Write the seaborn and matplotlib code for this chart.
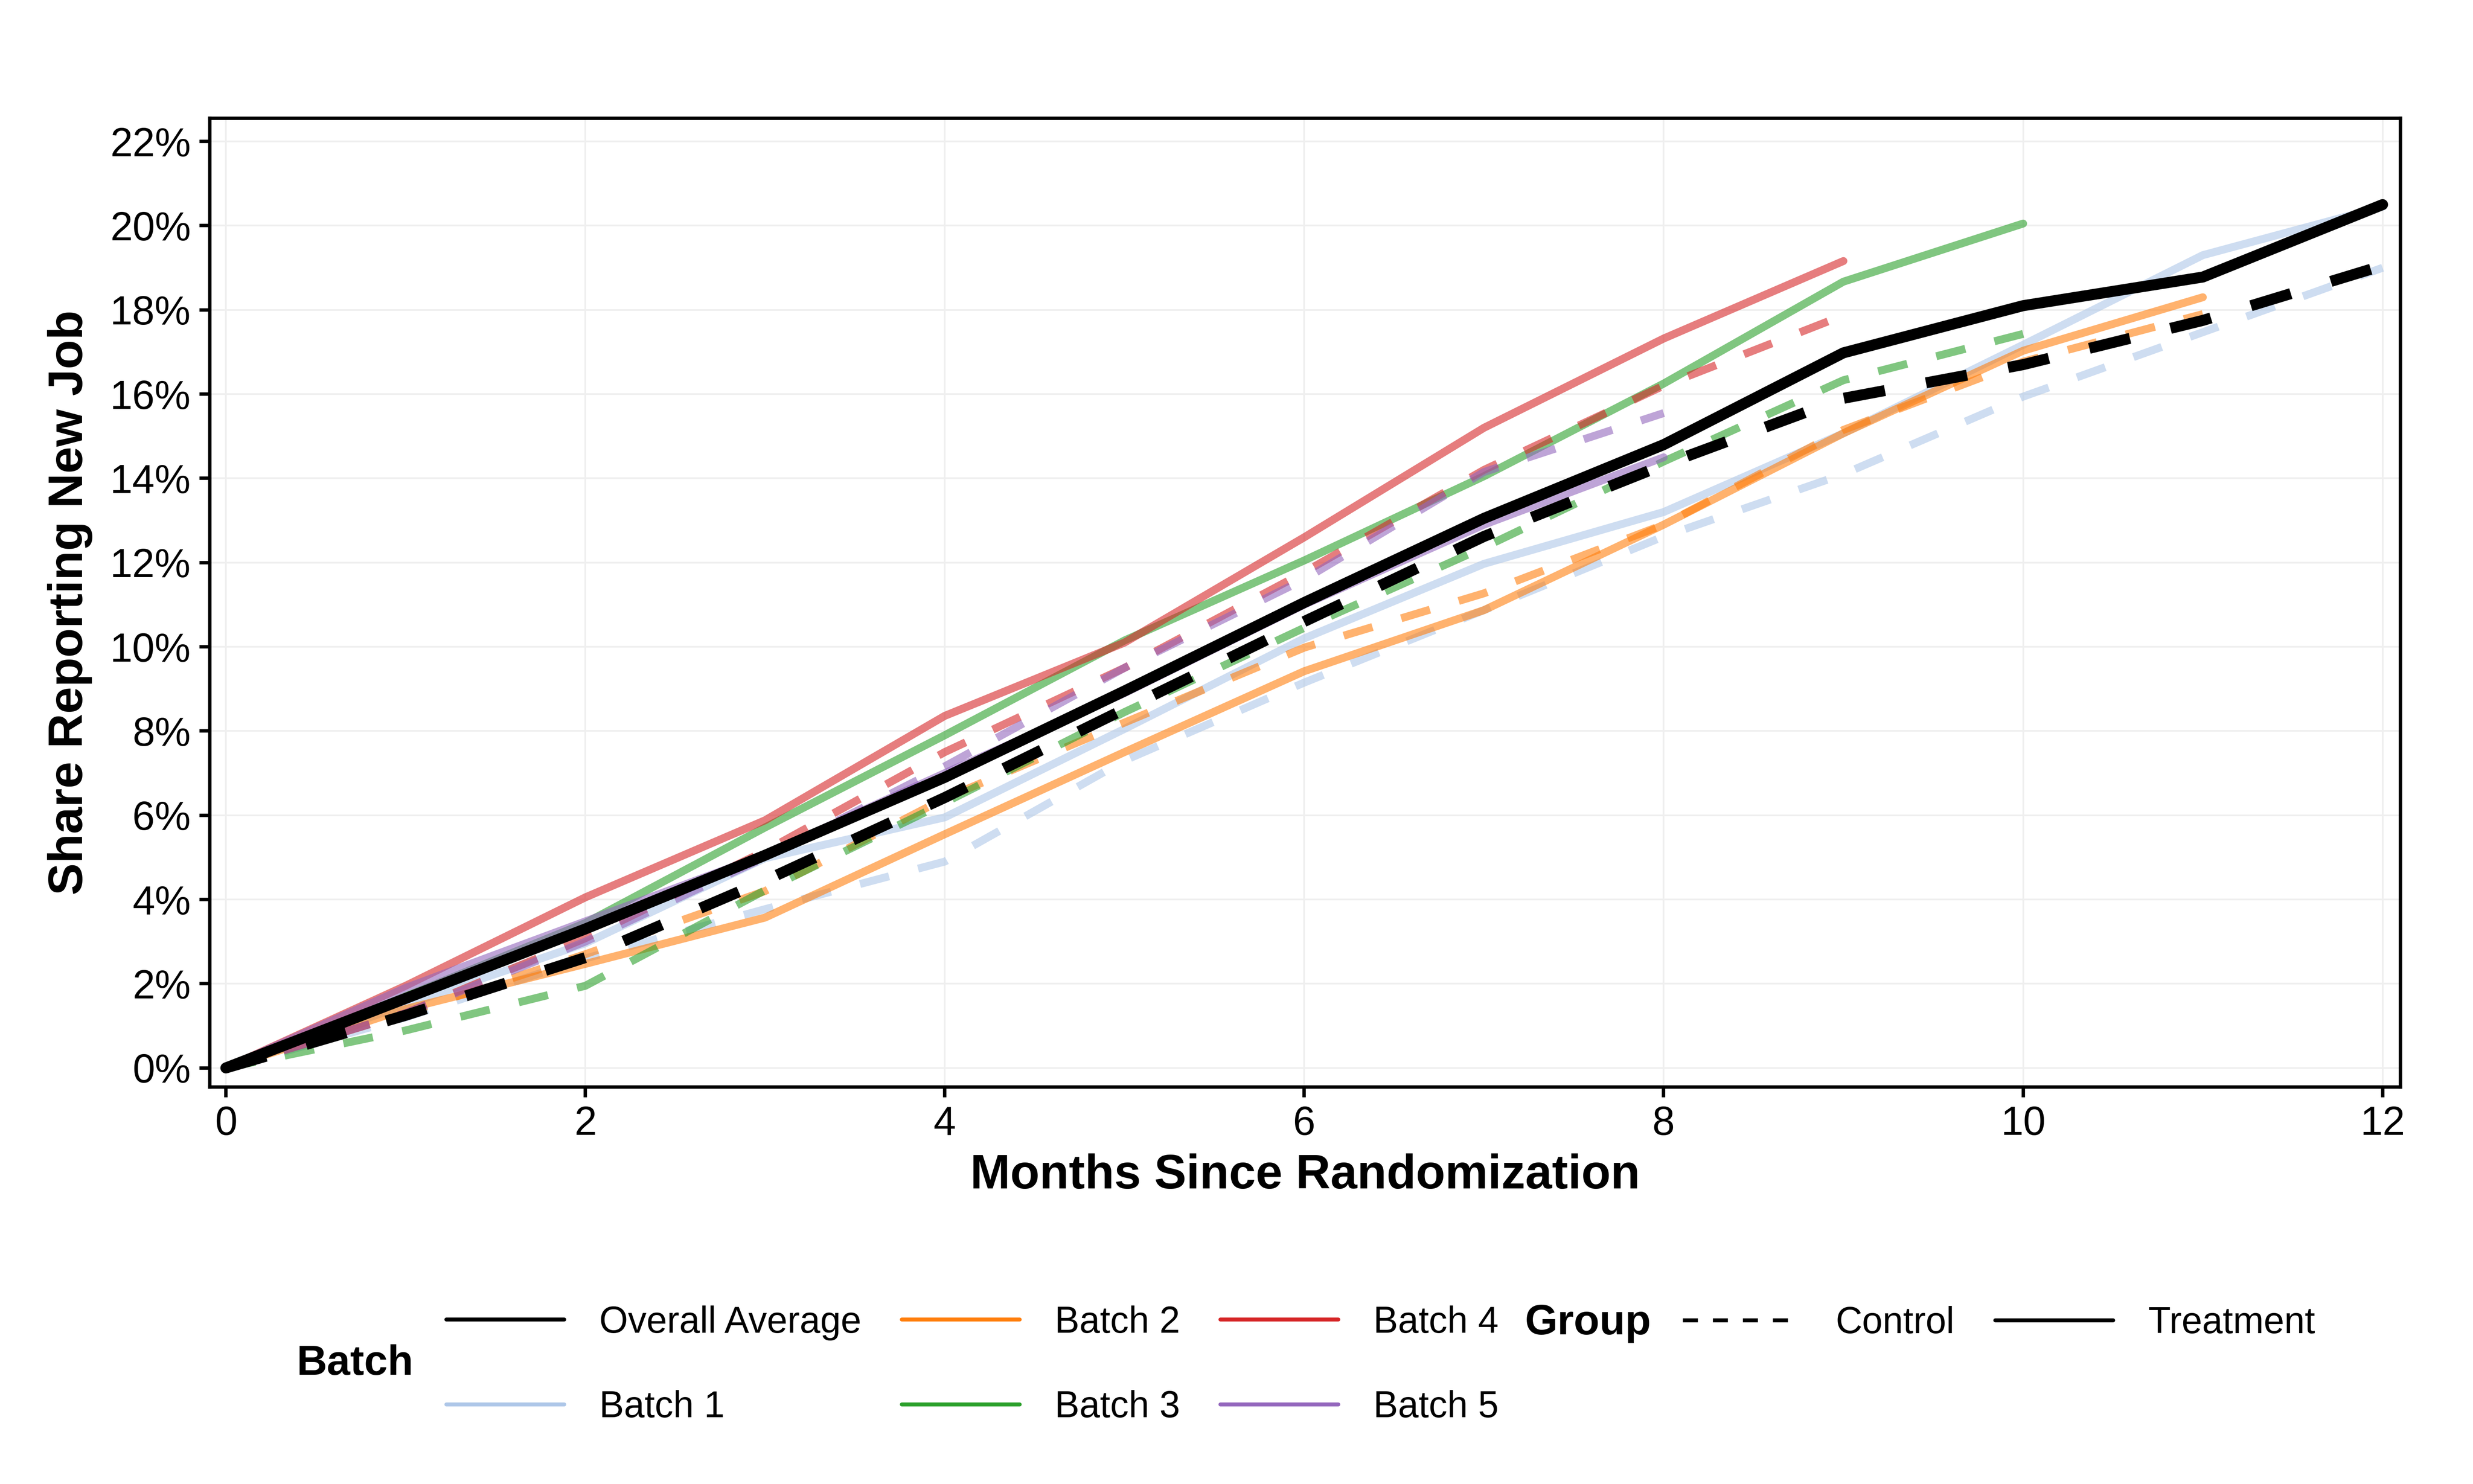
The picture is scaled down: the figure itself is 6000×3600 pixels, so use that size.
import matplotlib
matplotlib.use('Agg')
import matplotlib.pyplot as plt
from matplotlib.lines import Line2D
from matplotlib.ticker import FuncFormatter, MultipleLocator
import seaborn as sns
import pandas as pd

# months since randomization, share reporting new job in percent
months = list(range(13))

overall_treat = [0, 1.65, 3.3, 5.05, 6.9, 8.95, 11.05, 13.05, 14.8, 16.98, 18.1, 18.78, 20.5]
overall_ctrl = [0, 1.25, 2.62, 4.45, 6.42, 8.52, 10.6, 12.62, 14.32, 15.9, 16.7, 17.75, 19.05]

batch1_treat = [0, 1.5, 2.96, 4.98, 5.95, 8.05, 10.2, 11.97, 13.2, 15.07, 17.17, 19.3, 20.45]
batch1_ctrl = [0, 1.2, 2.6, 3.77, 4.9, 7.3, 9.15, 10.87, 12.62, 14.1, 15.94, 17.47, 19.0]
batch2_treat = [0, 1.4, 2.47, 3.57, 5.55, 7.5, 9.42, 10.87, 12.9, 15.07, 17.03, 18.3]
batch2_ctrl = [0, 1.3, 2.7, 4.2, 6.4, 8.2, 9.98, 11.27, 12.9, 15.15, 16.77, 17.9]
batch3_treat = [0, 1.7, 3.44, 5.71, 7.9, 10.15, 12.05, 14.05, 16.25, 18.67, 20.05]
batch3_ctrl = [0, 0.89, 1.95, 4.22, 6.3, 8.45, 10.45, 12.36, 14.4, 16.33, 17.43]
batch4_treat = [0, 1.95, 4.05, 5.88, 8.36, 10.1, 12.6, 15.2, 17.32, 19.16]
batch4_ctrl = [0, 1.3, 3.08, 5.15, 7.5, 9.5, 11.77, 14.2, 16.2, 17.87]
batch5_treat = [0, 1.9, 3.48, 5.06, 7.0, 8.9, 11.0, 12.9, 14.5]
batch5_ctrl = [0, 1.3, 3.0, 5.0, 7.16, 9.5, 11.6, 14.15, 15.55]

batch_names = ['Batch 1', 'Batch 2', 'Batch 3', 'Batch 4', 'Batch 5']
batch_colors = ['#aec7e8', '#ff7f0e', '#2ca02c', '#d62728', '#9467bd']

batches = {
    'Batch 1': (batch1_treat, batch1_ctrl),
    'Batch 2': (batch2_treat, batch2_ctrl),
    'Batch 3': (batch3_treat, batch3_ctrl),
    'Batch 4': (batch4_treat, batch4_ctrl),
    'Batch 5': (batch5_treat, batch5_ctrl),
}

rows = []
for name, (tr, ct) in batches.items():
    for m, v in enumerate(tr):
        rows.append({'month': m, 'share': v, 'batch': name, 'group': 'Treatment'})
    for m, v in enumerate(ct):
        rows.append({'month': m, 'share': v, 'batch': name, 'group': 'Control'})
batch_df = pd.DataFrame(rows)

overall_df = pd.DataFrame({
    'month': months + months,
    'share': overall_ctrl + overall_treat,
    'group': ['Control'] * len(months) + ['Treatment'] * len(months),
})

sns.set_theme(style='white')
plt.rcParams['font.family'] = ['Liberation Sans', 'DejaVu Sans']
plt.rcParams['text.color'] = 'black'
plt.rcParams['axes.labelcolor'] = 'black'

fig = plt.figure(figsize=(20, 12), dpi=300)
ax = fig.add_axes([0.0848, 0.2676, 0.8859, 0.6527])

dash_map = {'Control': (3.8, 3.8), 'Treatment': ''}

sns.lineplot(data=batch_df, x='month', y='share', hue='batch', style='group',
             palette=dict(zip(batch_names, batch_colors)), dashes=dash_map,
             linewidth=4.6, alpha=0.6, estimator=None, legend=False, ax=ax)
n_batch_lines = len(ax.lines)
sns.lineplot(data=overall_df, x='month', y='share', style='group', dashes=dash_map,
             color='black', linewidth=6.4, estimator=None, legend=False, ax=ax)

# make sure widths stick
for i, ln in enumerate(ax.lines):
    ln.set_linewidth(4.6 if i < n_batch_lines else 6.4)

ax.set_xlim(-0.09, 12.1)
ax.set_ylim(-0.45, 22.55)
ax.xaxis.set_major_locator(MultipleLocator(2))
ax.yaxis.set_major_locator(MultipleLocator(2))
ax.yaxis.set_major_formatter(FuncFormatter(lambda v, p: f'{v:.0f}%'))
ax.grid(True, color='#efefef', linewidth=1.0)
ax.set_axisbelow(True)
for s in ax.spines.values():
    s.set_color('black')
    s.set_linewidth(2.0)
ax.tick_params(axis='both', which='major', direction='out', length=6, width=2.0,
               color='black', labelsize=23.5, pad=5, labelcolor='black',
               bottom=True, left=True)

ax.set_xlabel('Months Since Randomization', fontsize=28, fontweight='bold', labelpad=6)
ax.set_ylabel('Share Reporting New Job', fontsize=28, fontweight='bold', labelpad=10)

# legends
leg_labels = ['Overall Average'] + batch_names
leg_colors = ['black'] + batch_colors
batch_handles = [Line2D([], [], color=c, lw=2.3) for c in leg_colors]
fig.legend(batch_handles, leg_labels, loc='center left', bbox_to_anchor=(0.1805, 0.0800),
           ncol=3, frameon=False, fontsize=21.5, handlelength=3.19, handletextpad=0.95,
           columnspacing=1.1, labelspacing=1.35, borderaxespad=0, borderpad=0)
fig.text(0.1199, 0.0811, 'Batch', fontsize=24.5, fontweight='bold', va='center', ha='left')

group_handles = [Line2D([], [], color='black', lw=2.3, dashes=(3.8, 3.8)),
                 Line2D([], [], color='black', lw=2.3)]
fig.legend(group_handles, ['Control', 'Treatment'], loc='center left',
           bbox_to_anchor=(0.6805, 0.1082), ncol=2, frameon=False, fontsize=21.5,
           handlelength=3.19, handletextpad=0.95, columnspacing=1.1,
           borderaxespad=0, borderpad=0)
fig.text(0.6167, 0.1082, 'Group', fontsize=24.5, fontweight='bold', va='center', ha='left')

fig.savefig('out.png', dpi=300)
